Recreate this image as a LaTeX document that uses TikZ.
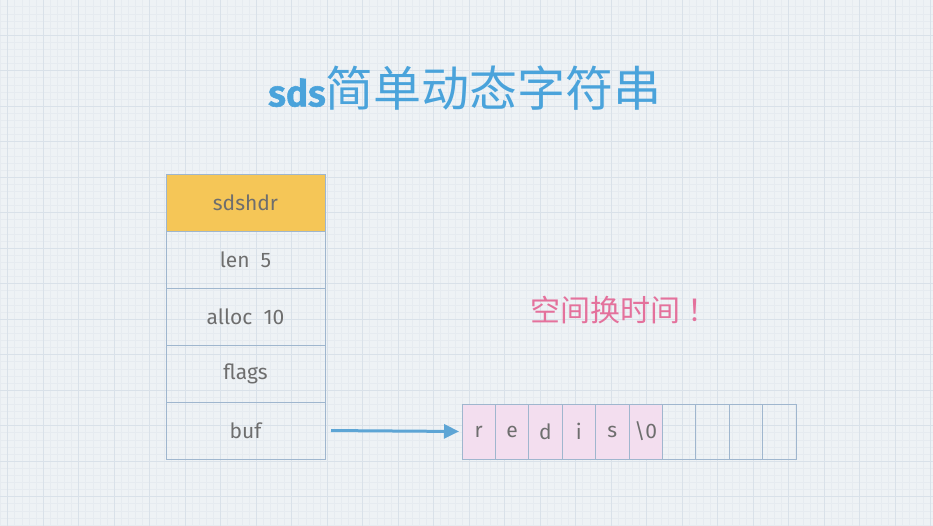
\documentclass[tikz,border=0pt]{standalone}
\usepackage{fontspec}
\setmainfont{Fira Sans}
\newfontfamily\cjk{Noto Sans CJK SC}
\newfontfamily\sdsfont{Fira Sans SemiBold}[FakeBold=1.5]
\usetikzlibrary{positioning,arrows.meta}

\definecolor{paper}{HTML}{EEF2F5}
\definecolor{minorline}{HTML}{E6EBF0}
\definecolor{majorline}{HTML}{D9E1E9}
\definecolor{cellline}{HTML}{9FB6CE}
\definecolor{hdrgold}{HTML}{F5C657}
\definecolor{slotpink}{HTML}{F3DEEF}
\definecolor{txtgray}{HTML}{6E6E6E}
\definecolor{titleblue}{HTML}{4AA3DB}
\definecolor{notepink}{HTML}{E4719C}
\definecolor{ptrblue}{HTML}{5DA5D5}

\tikzset{
  field/.style={draw=cellline, line width=0.8pt, outer sep=0pt, inner sep=0pt,
    minimum width=159pt, minimum height=57pt, text=txtgray,
    font=\fontsize{21}{25}\selectfont},
  head/.style={field, fill=hdrgold},
  slot/.style={draw=cellline, line width=0.8pt, outer sep=0pt, inner sep=0pt,
    minimum width=33.4pt, minimum height=55pt, text=txtgray,
    font=\fontsize{21}{25}\selectfont},
  used/.style={slot, fill=slotpink},
  ptr/.style={draw=ptrblue, line width=3pt, -{Triangle[length=15pt,width=14pt]}}
}

\begin{document}
\begin{tikzpicture}[x=1pt,y=-1pt]
    \useasboundingbox (0,0) rectangle (933,525);
    \fill[paper] (0,0) rectangle (933,525);

    %% graph paper
    \begin{scope}[y=1pt]
      \clip (0,-525) rectangle (933,0);
      \draw[minorline, line width=0.4pt, step=7.1, shift={(7.5,0.5)}] (-20,-545) grid (950,20);
      \draw[majorline, line width=0.6pt, step=35.5, shift={(7.5,0.5)}] (-40,-560) grid (960,40);
    \end{scope}

    %% title
    \node (title) at (465,88) {\color{titleblue}{\sdsfont\fontsize{37}{40}\selectfont sds}{\cjk\fontsize{48}{52}\selectfont 简单动态字符串}};

    %% sdshdr struct
    \node (sdshdr) at (245.5,202.5) [head] {sdshdr};
    \node (len) [field, below=0pt of sdshdr] {len\ \ 5};
    \node (alloc) [field, below=0pt of len] {alloc\ \ 10};
    \node (flags) [field, below=0pt of alloc] {flags};
    \node (buf) [field, below=0pt of flags] {buf};

    %% buf contents
    \node (r) at (478.7,431.5) [used] {r};
    \node (e) [used, right=0pt of r] {e};
    \node (d) [used, right=0pt of e] {d};
    \node (i) [used, right=0pt of d] {i};
    \node (s) [used, right=0pt of i] {s};
    \node (nul) [used, right=0pt of s] {\textbackslash 0};
    \node (free1) [slot, right=0pt of nul] {};
    \node (free2) [slot, right=0pt of free1] {};
    \node (free3) [slot, right=0pt of free2] {};
    \node (free4) [slot, right=0pt of free3] {};

    \draw[ptr, shorten <=6pt, shorten >=3pt] (buf.east) -- (r.west);

    %% note
    \node (note) at (624,310) [text=notepink, font=\cjk\fontsize{30}{34}\selectfont] {空间换时间\ ！};
\end{tikzpicture}
\end{document}
